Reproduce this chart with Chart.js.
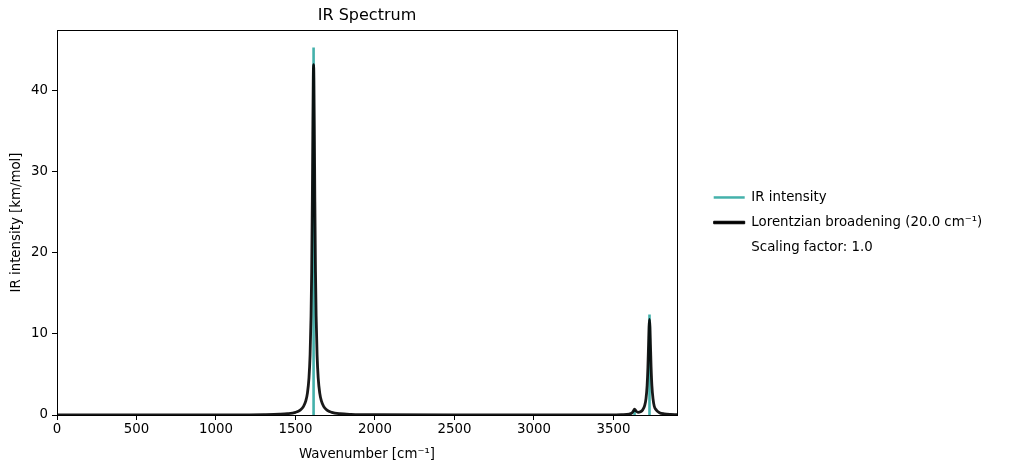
<!DOCTYPE html>
<html>
<head>
<meta charset="utf-8">
<script src="https://cdn.jsdelivr.net/npm/chart.js@4/dist/chart.umd.min.js"></script>
<style>
  html, body { margin: 0; padding: 0; background: #fff; }
  #wrap { width: 1012px; height: 474px; }
</style>
</head>
<body>
<div id="wrap"><canvas id="c" width="1012" height="474"></canvas></div>
<script>
// ---- data ----
const stickWavenumbers = [1614, 3633, 3727];
const stickIntensities = [45.3, 0.6, 12.4];

const curveWavenumbers = [0, 500, 1000, 1200, 1300, 1400, 1450, 1500, 1530, 1550, 1565, 1575, 1585, 1592, 1598, 1602, 1606, 1609, 1612, 1614, 1616, 1619, 1622, 1626, 1630, 1636, 1643, 1653, 1663, 1678, 1698, 1728, 1780, 1850, 2000, 2500, 3000, 3300, 3450, 3550, 3600, 3615, 3625, 3633, 3641, 3655, 3670, 3685, 3697, 3705, 3712, 3717, 3721, 3724, 3727, 3730, 3733, 3737, 3742, 3749, 3757, 3770, 3790, 3820, 3860, 3900];
const curveIntensities = [0.002, 0.003, 0.011, 0.025, 0.044, 0.094, 0.16, 0.33, 0.60, 1.03, 1.73, 2.66, 4.58, 7.41, 12.2, 17.7, 26.3, 34.6, 41.5, 43.2, 41.5, 34.6, 26.3, 17.7, 12.2, 7.41, 4.58, 2.66, 1.73, 1.03, 0.60, 0.33, 0.155, 0.077, 0.029, 0.006, 0.004, 0.007, 0.015, 0.045, 0.12, 0.23, 0.48, 0.73, 0.53, 0.32, 0.39, 0.65, 1.19, 2.02, 3.63, 5.9, 8.68, 10.83, 11.8, 10.83, 8.68, 5.9, 3.63, 2.02, 1.08, 0.61, 0.29, 0.14, 0.066, 0.039];

const xTicks = [0, 500, 1000, 1500, 2000, 2500, 3000, 3500];
const yTicks = [0, 10, 20, 30, 40];
const xMax = 3900;
const yMax = 47.46;

const legendLabels = ['IR intensity', 'Lorentzian broadening (20.0 cm\u207B\u00B9)', 'Scaling factor: 1.0'];

// ---- build datasets ----
const stickPoints = [];
stickWavenumbers.forEach((w, i) => {
  stickPoints.push({x: w, y: 0});
  stickPoints.push({x: w, y: stickIntensities[i]});
  stickPoints.push({x: w, y: null});
});
const curvePoints = curveWavenumbers.map((w, i) => ({x: w, y: curveIntensities[i]}));

const TEAL = '#44b1ab';
const CURVE = 'rgba(0,0,0,0.9)';

Chart.defaults.font.family = "'DejaVu Sans', sans-serif";
Chart.defaults.font.size = 13.33;
Chart.defaults.color = '#000';

const framePlugin = {
  id: 'frame',
  afterLayout(chart) {
    const lg = chart.legend;
    if (lg) {
      lg.left += 25;
      lg.right = chart.width;
      lg.width = lg.right - lg.left;
    }
  },
  afterDraw(chart) {
    const a = chart.chartArea, ctx = chart.ctx;
    ctx.save();
    ctx.strokeStyle = '#000';
    ctx.lineWidth = 1;
    ctx.strokeRect(Math.round(a.left) + 0.5, Math.round(a.top) + 0.5, Math.round(a.right - a.left), Math.round(a.bottom - a.top));
    ctx.restore();
  }
};

new Chart(document.getElementById('c'), {
  type: 'line',
  data: {
    datasets: [
      {
        label: legendLabels[0],
        data: stickPoints,
        borderColor: TEAL,
        backgroundColor: TEAL,
        borderWidth: 2.6,
        pointRadius: 0,
        spanGaps: false,
        tension: 0,
        order: 2
      },
      {
        label: legendLabels[1],
        data: curvePoints,
        borderColor: CURVE,
        backgroundColor: CURVE,
        borderWidth: 2.8,
        pointRadius: 0,
        cubicInterpolationMode: 'monotone',
        order: 1
      }
    ]
  },
  options: {
    responsive: false,
    animation: false,
    parsing: false,
    layout: { padding: { left: 0, right: 109.33, top: 0, bottom: 0 } },
    plugins: {
      tooltip: { enabled: false },
      title: {
        display: true,
        text: 'IR Spectrum',
        font: { size: 16, weight: 'normal' },
        color: '#000',
        fullSize: false,
        padding: { top: 6.5, bottom: 4.3 }
      },
      legend: {
        position: 'right',
        fullSize: false,
        align: 'center',
        labels: {
          boxWidth: 31,
          boxHeight: 2.5,
          padding: 11.7,
          color: '#000',
          font: { size: 13.33 },
          generateLabels() {
            return [
              { text: legendLabels[0], fillStyle: TEAL, strokeStyle: TEAL, lineWidth: 0, datasetIndex: 0 },
              { text: legendLabels[1], fillStyle: '#000', strokeStyle: '#000', lineWidth: 1, datasetIndex: 1 },
              { text: legendLabels[2], fillStyle: 'rgba(0,0,0,0)', strokeStyle: 'rgba(0,0,0,0)', lineWidth: 0 }
            ];
          }
        }
      }
    },
    scales: {
      x: {
        type: 'linear',
        min: 0,
        max: xMax,
        afterFit(scale) { scale.height = 59; },
        afterBuildTicks(scale) { scale.ticks = xTicks.map(v => ({value: v})); },
        grid: { drawOnChartArea: false, drawTicks: true, tickLength: 5, color: '#000', lineWidth: 1 },
        border: { display: true, color: '#000', width: 1 },
        ticks: { padding: 2, maxRotation: 0, color: '#000', font: { size: 13.33 }, callback: v => String(v) },
        title: { display: true, text: 'Wavenumber [cm\u207B\u00B9]', color: '#000', font: { size: 13.33 }, padding: { top: 4, bottom: 11 } }
      },
      y: {
        type: 'linear',
        min: 0,
        max: yMax,
        afterFit(scale) { scale.width = 57; },
        afterBuildTicks(scale) { scale.ticks = yTicks.map(v => ({value: v})); },
        grid: { drawOnChartArea: false, drawTicks: true, tickLength: 5, color: '#000', lineWidth: 1 },
        border: { display: true, color: '#000', width: 1 },
        ticks: { padding: 4, color: '#000', font: { size: 13.33 }, callback: v => String(v) },
        title: { display: true, text: 'IR intensity [km/mol]', color: '#000', font: { size: 13.33 }, padding: { top: 9, bottom: 4 } }
      }
    }
  },
  plugins: [framePlugin]
});
</script>
</body>
</html>
